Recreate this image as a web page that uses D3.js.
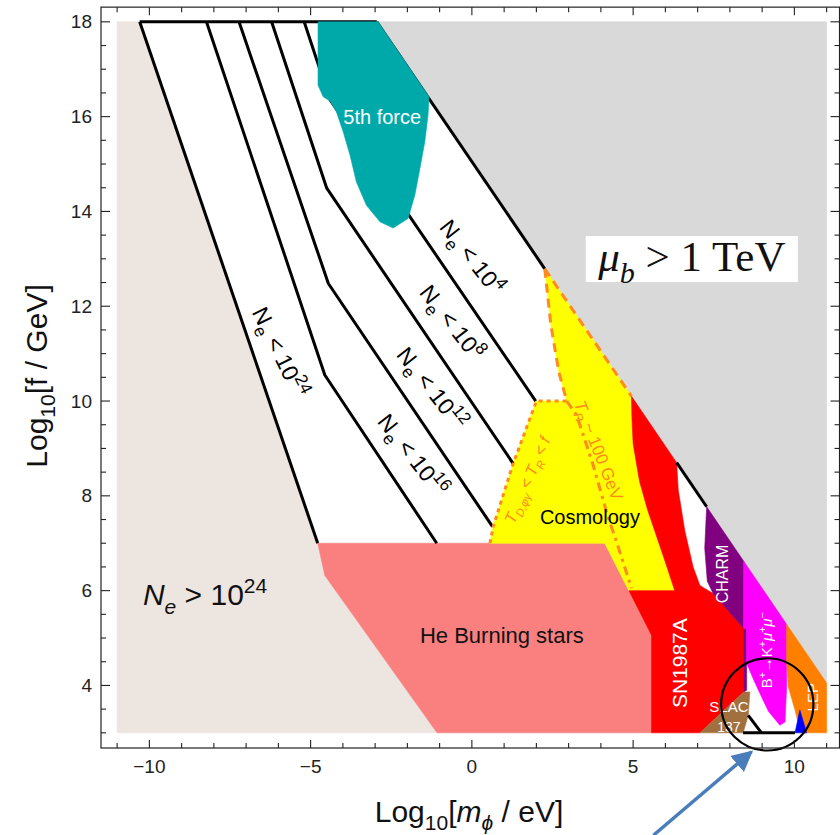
<!DOCTYPE html>
<html><head><meta charset="utf-8">
<script src="https://cdn.jsdelivr.net/npm/d3@7"></script>
<style>body{margin:0;background:#fff} text{font-family:Arial,"Liberation Sans",sans-serif}</style>
</head><body><svg id="c" width="840" height="835"></svg>
<script>
// ---- axes ----
const xDomain = [-11.5, 11.4];
const yDomain = [2.68, 18.31];
const xMajor = [-10, -5, 0, 5, 10];
const xMinor = d3.range(-11, 12, 1);
const yMajor = [4, 6, 8, 10, 12, 14, 16, 18];
const yMinor = d3.range(3, 18.01, 0.5);

// ---- regions (log10 m / eV, log10 f / GeV) ----
const beigeRegion = [[-11,3],[-11,18],[-10.3,18],[-4.78,7],[-4.56,6.32],[-1.08,3]];
const grayRegion = [[-2.95,18],[11,18],[11,4.05]];
const heBurning = [[-4.78,7],[4.12,7],[5.57,5.06],[5.57,3],[-1.08,3],[-4.56,6.32]];
const cosmology = [[2.26,12.79],[4.95,10.1],[4.96,9.7],[5.0,9.1],[5.2,8.3],[5.45,7.7],[5.7,7.2],[6.0,6.6],[6.29,6.0],[4.87,6.0],[4.12,7.0],[0.56,7.0],[0.66,7.35],[1.28,8.68],[2.0,10.0],[2.94,10.0],[2.7,10.6],[2.45,11.6]];
const sn1987a = [[4.95,10.1],[6.35,8.7],[6.40,8.12],[6.6,7.27],[6.86,6.5],[7.07,6.11],[7.48,5.94],[8.43,5.2],[8.43,3.86],[7.07,3.0],[5.57,3.0],[5.57,5.06],[4.87,6.0],[6.29,6.0],[6.0,6.6],[5.7,7.2],[5.45,7.7],[5.2,8.3],[5.0,9.1],[4.96,9.7]];
const charm = [[7.28,7.77],[8.43,6.62],[8.43,5.2],[7.48,5.94],[7.3,6.2],[7.22,6.9]];
const charmStrip = [[8.43,5.2],[8.52,5.2],[8.52,3.9],[8.43,3.86]];
const bkmumu = [[8.43,6.62],[9.76,5.29],[9.76,3.97],[9.71,3.23],[9.55,3.16],[9.2,3.45],[8.98,3.76],[8.75,4.1],[8.52,4.47],[8.52,5.2],[8.43,5.2]];
const lep = [[9.76,5.29],[11,4.05],[11,3],[10.33,3],[10.12,3.2],[10.02,3.48],[9.81,3.97],[9.76,4.5]];
const blueRegion = [[10.02,3],[10.17,3.48],[10.38,3]];
const slac = [[7.07,3],[8.43,3.86],[8.62,3.86],[8.57,3.37],[8.41,3]];
const fifthForce = [[-4.77,18],[-4.77,16.66],[-4.61,16.42],[-4.40,16.33],[-4.20,16.10],[-3.99,15.68],[-3.78,15.19],[-3.58,14.62],[-3.27,14.13],[-2.85,13.78],[-2.44,13.65],[-1.98,13.85],[-1.77,14.34],[-1.61,14.91],[-1.46,15.47],[-1.36,16.03],[-1.33,16.42],[-2.91,18]];

// ---- contour lines ----
const contour24 = [[-10.3,18],[-4.78,7]];
const contour16 = [[-8.23,18],[-4.56,10.55],[-1.09,7]];
const contour12 = [[-7.22,18],[-4.45,12.48],[0.64,7.35]];
const contour8  = [[-6.21,18],[-4.5,14.49],[1.28,8.68]];
const contour4  = [[-5.2,18],[-4.41,16.37],[1.98,10.0]];
const topLine = [[-10.3,18],[-2.95,18]];
const boundaryA = [[-2.95,18],[2.26,12.79]];
const boundaryB = [[6.35,8.7],[7.28,7.77]];
const bottomLine = [[8.41,3],[10.02,3]];
const bottomDiag = [[8.57,3.37],[8.98,3.0]];
const cosmoTop = [[2.26,12.79],[4.95,10.1]];
const cosmoLeft = [[0.56,7.0],[0.66,7.35],[1.28,8.68],[2.0,10.0],[2.94,10.0]];
const trUpper = [[2.26,12.79],[2.45,11.6],[2.7,10.6],[2.94,10.0]];
const trLower = [[2.94,10.0],[3.25,9.7],[3.76,8.65],[4.2,7.6],[4.5,7.0],[4.95,6.05]];

const contourLabels = [
  {k:"24", x:-5.95, y:11.03, a:64},
  {k:"16", x:-1.83, y:8.86, a:52},
  {k:"12", x:-1.24, y:10.27, a:52},
  {k:"8",  x:-0.62, y:11.66, a:52},
  {k:"4",  x:0.0,   y:13.04, a:52}
];

const svg = d3.select("#c");
const x = d3.scaleLinear().domain(xDomain).range([101, 101 + (xDomain[1]-xDomain[0])*32.25]);
const y = d3.scaleLinear().domain(yDomain).range([748, 748 - (yDomain[1]-yDomain[0])*47.4]);
const line = d3.line().x(d=>x(d[0])).y(d=>y(d[1]));
const poly = pts => line(pts) + "Z";

const plot = svg.append("g");
function region(pts, fill){ plot.append("path").attr("d", poly(pts)).attr("fill", fill).attr("stroke", fill).attr("stroke-width", 0.6); }
region(beigeRegion, "#ede5df");
region(grayRegion, "#d9d9d9");
region(heBurning, "#fa8080");
region(cosmology, "#ffff00");
region(sn1987a, "#ff0000");
region(charm, "#800080");
region(charmStrip, "#800080");
region(bkmumu, "#ff00ff");
region(lep, "#ff8000");
region(blueRegion, "#0000ff");
region(slac, "#a2703f");

function stroke(pts, color, w, dash){
  const p = plot.append("path").attr("d", line(pts)).attr("fill","none").attr("stroke",color).attr("stroke-width",w).attr("stroke-linejoin","round");
  if(dash) p.attr("stroke-dasharray", dash);
}
[contour24, contour16, contour12, contour8, contour4, topLine, boundaryA, boundaryB, bottomLine, bottomDiag].forEach(l=>stroke(l,"#000",3));
const orng = "#ff8a1e";
stroke(cosmoTop, orng, 3, "9,6");
stroke(cosmoLeft, orng, 3, "4,4");
stroke(trUpper, orng, 3, "9,6");
stroke(trLower, orng, 3, "9,5,3,5");

region(fifthForce, "#00a9a9");

// ---- rich text helper ----
function rich(sel, parts, fs, subScale){
  const sc = subScale || 0.7;
  let shift = 0;
  parts.forEach(p=>{
    const target = p.sub ? fs*0.28 : p.sup ? -fs*0.42 : 0;
    const ts = sel.append("tspan").text(p.t).attr("dy", target-shift);
    shift = target;
    if(p.sub||p.sup) ts.attr("font-size", fs*sc);
    if(p.it) ts.attr("font-style","italic");
  });
}
function label(txt, dx, dy, fs, color, rot, anchor, sc){
  const g = svg.append("g").attr("transform", `translate(${x(dx)},${y(dy)}) rotate(${rot||0})`);
  const t = g.append("text").attr("y", fs*0.35).attr("font-size", fs).attr("fill", color).attr("text-anchor", anchor||"middle");
  if(typeof txt === "string") t.text(txt); else rich(t, txt, fs, sc);
  return t;
}

contourLabels.forEach(c=>{
  label([{t:"N"},{t:"e",sub:true},{t:" < 10"},{t:c.k,sup:true}], c.x, c.y, 23, "#000", c.a, "middle", 0.75);
});

label("5th force", -2.78, 15.99, 20, "#fff");
label("Cosmology", 3.66, 7.55, 20, "#000");
label("He Burning stars", 0.93, 5.06, 22, "#111");
label("SN1987A", 6.45, 4.47, 21, "#fff", -90);
label("CHARM", 7.78, 6.35, 16, "#fff", -90);
label([{t:"B"},{t:"+",sup:true},{t:"→K"},{t:"+",sup:true},{t:"μ",it:true},{t:"+",sup:true},{t:"μ",it:true},{t:"−",sup:true}], 9.15, 4.74, 15, "#fff", -90);
label("LEP", 10.57, 3.75, 15, "#fff", -90);
label("SLAC", 7.97, 3.56, 15, "#fff");
label("137", 7.97, 3.12, 14, "#fff");
label([{t:"T",it:true},{t:"D,φγ",sub:true,it:true},{t:" < "},{t:"T",it:true},{t:"R",sub:true,it:true},{t:" < "},{t:"f",it:true}], 1.72, 8.33, 16, orng, -66.7);
label([{t:"T",it:true},{t:"R",sub:true,it:true},{t:" ~ 100 GeV"}], 3.93, 8.96, 17, orng, 68.5);

// N_e > 10^24
label([{t:"N",it:true},{t:"e",sub:true,it:true},{t:" > 10"},{t:"24",sup:true}], -10.2, 5.69, 30, "#111", 0, "start").attr("y", 0);

// mu_b box
const muBox = [[3.53,13.48],[10.11,12.51]];
svg.append("rect").attr("x", x(muBox[0][0])).attr("y", y(muBox[0][1])).attr("width", x(muBox[1][0])-x(muBox[0][0])).attr("height", y(muBox[1][1])-y(muBox[0][1])).attr("fill","#fff");
const mu = svg.append("text").attr("x", (x(muBox[0][0])+x(muBox[1][0]))/2).attr("y", 271).attr("text-anchor","middle")
  .attr("font-size", 43).attr("fill","#111").style("font-family","'Liberation Serif','DejaVu Serif',serif");
rich(mu, [{t:"μ",it:true},{t:"b",sub:true,it:true},{t:" > 1 TeV"}], 43);

// circle annotation + arrow
const circ = {x:9.16, y:3.6, r:1.43};
svg.append("circle").attr("cx", x(circ.x)).attr("cy", y(circ.y)).attr("r", x(circ.x+circ.r)-x(circ.x)).attr("fill","none").attr("stroke","#000").attr("stroke-width",2.2);
const arrowTail = [5.63, 0.84], arrowTip = [8.67, 2.60];
const defs = svg.append("defs");
defs.append("marker").attr("id","ah").attr("viewBox","0 0 10 10").attr("refX",9).attr("refY",5).attr("markerWidth",6).attr("markerHeight",6).attr("orient","auto")
  .append("path").attr("d","M0,0L10,5L0,10Z").attr("fill","#4a7ebb");
svg.append("line").attr("x1",x(arrowTail[0])).attr("y1",y(arrowTail[1])).attr("x2",x(arrowTip[0])).attr("y2",y(arrowTip[1]))
  .attr("stroke","#4a7ebb").attr("stroke-width",3.5).attr("marker-end","url(#ah)");

// ---- frame and ticks ----
const [X0,X1] = x.range(), [Y0,Y1] = y.range();
svg.append("rect").attr("x",X0).attr("y",Y1).attr("width",X1-X0).attr("height",Y0-Y1).attr("fill","none").attr("stroke","#222").attr("stroke-width",1.2);
const tk = svg.append("g").attr("stroke","#222").attr("stroke-width",1.1);
xMinor.forEach(v=>{
  const L = xMajor.includes(v) ? 8 : 5;
  tk.append("line").attr("x1",x(v)).attr("x2",x(v)).attr("y1",Y0).attr("y2",Y0-L);
  tk.append("line").attr("x1",x(v)).attr("x2",x(v)).attr("y1",Y1).attr("y2",Y1+L);
});
yMinor.forEach(v=>{
  const L = yMajor.includes(v) ? 9 : 5;
  tk.append("line").attr("y1",y(v)).attr("y2",y(v)).attr("x1",X0).attr("x2",X0+L);
  tk.append("line").attr("y1",y(v)).attr("y2",y(v)).attr("x1",X1).attr("x2",X1-L);
});
xMajor.forEach(v=>{
  svg.append("text").attr("x",x(v)).attr("y",773).attr("text-anchor","middle").attr("font-size",19).attr("fill","#222")
    .text(v<0 ? "\u2212"+Math.abs(v) : v);
});
yMajor.forEach(v=>{
  svg.append("text").attr("x",92).attr("y",y(v)).attr("dy","0.35em").attr("text-anchor","end").attr("font-size",19).attr("fill","#222").text(v);
});

// axis titles
const xt = svg.append("text").attr("x",469).attr("y",822).attr("text-anchor","middle").attr("font-size",30).attr("fill","#111");
rich(xt, [{t:"Log"},{t:"10",sub:true},{t:"["},{t:"m",it:true},{t:"ϕ",sub:true,it:true},{t:" / eV]"}], 30);
const yt = svg.append("text").attr("transform","translate(47,376) rotate(-90)").attr("text-anchor","middle").attr("font-size",30).attr("fill","#111");
rich(yt, [{t:"Log"},{t:"10",sub:true},{t:"[f / GeV]"}], 30);
</script></body></html>
